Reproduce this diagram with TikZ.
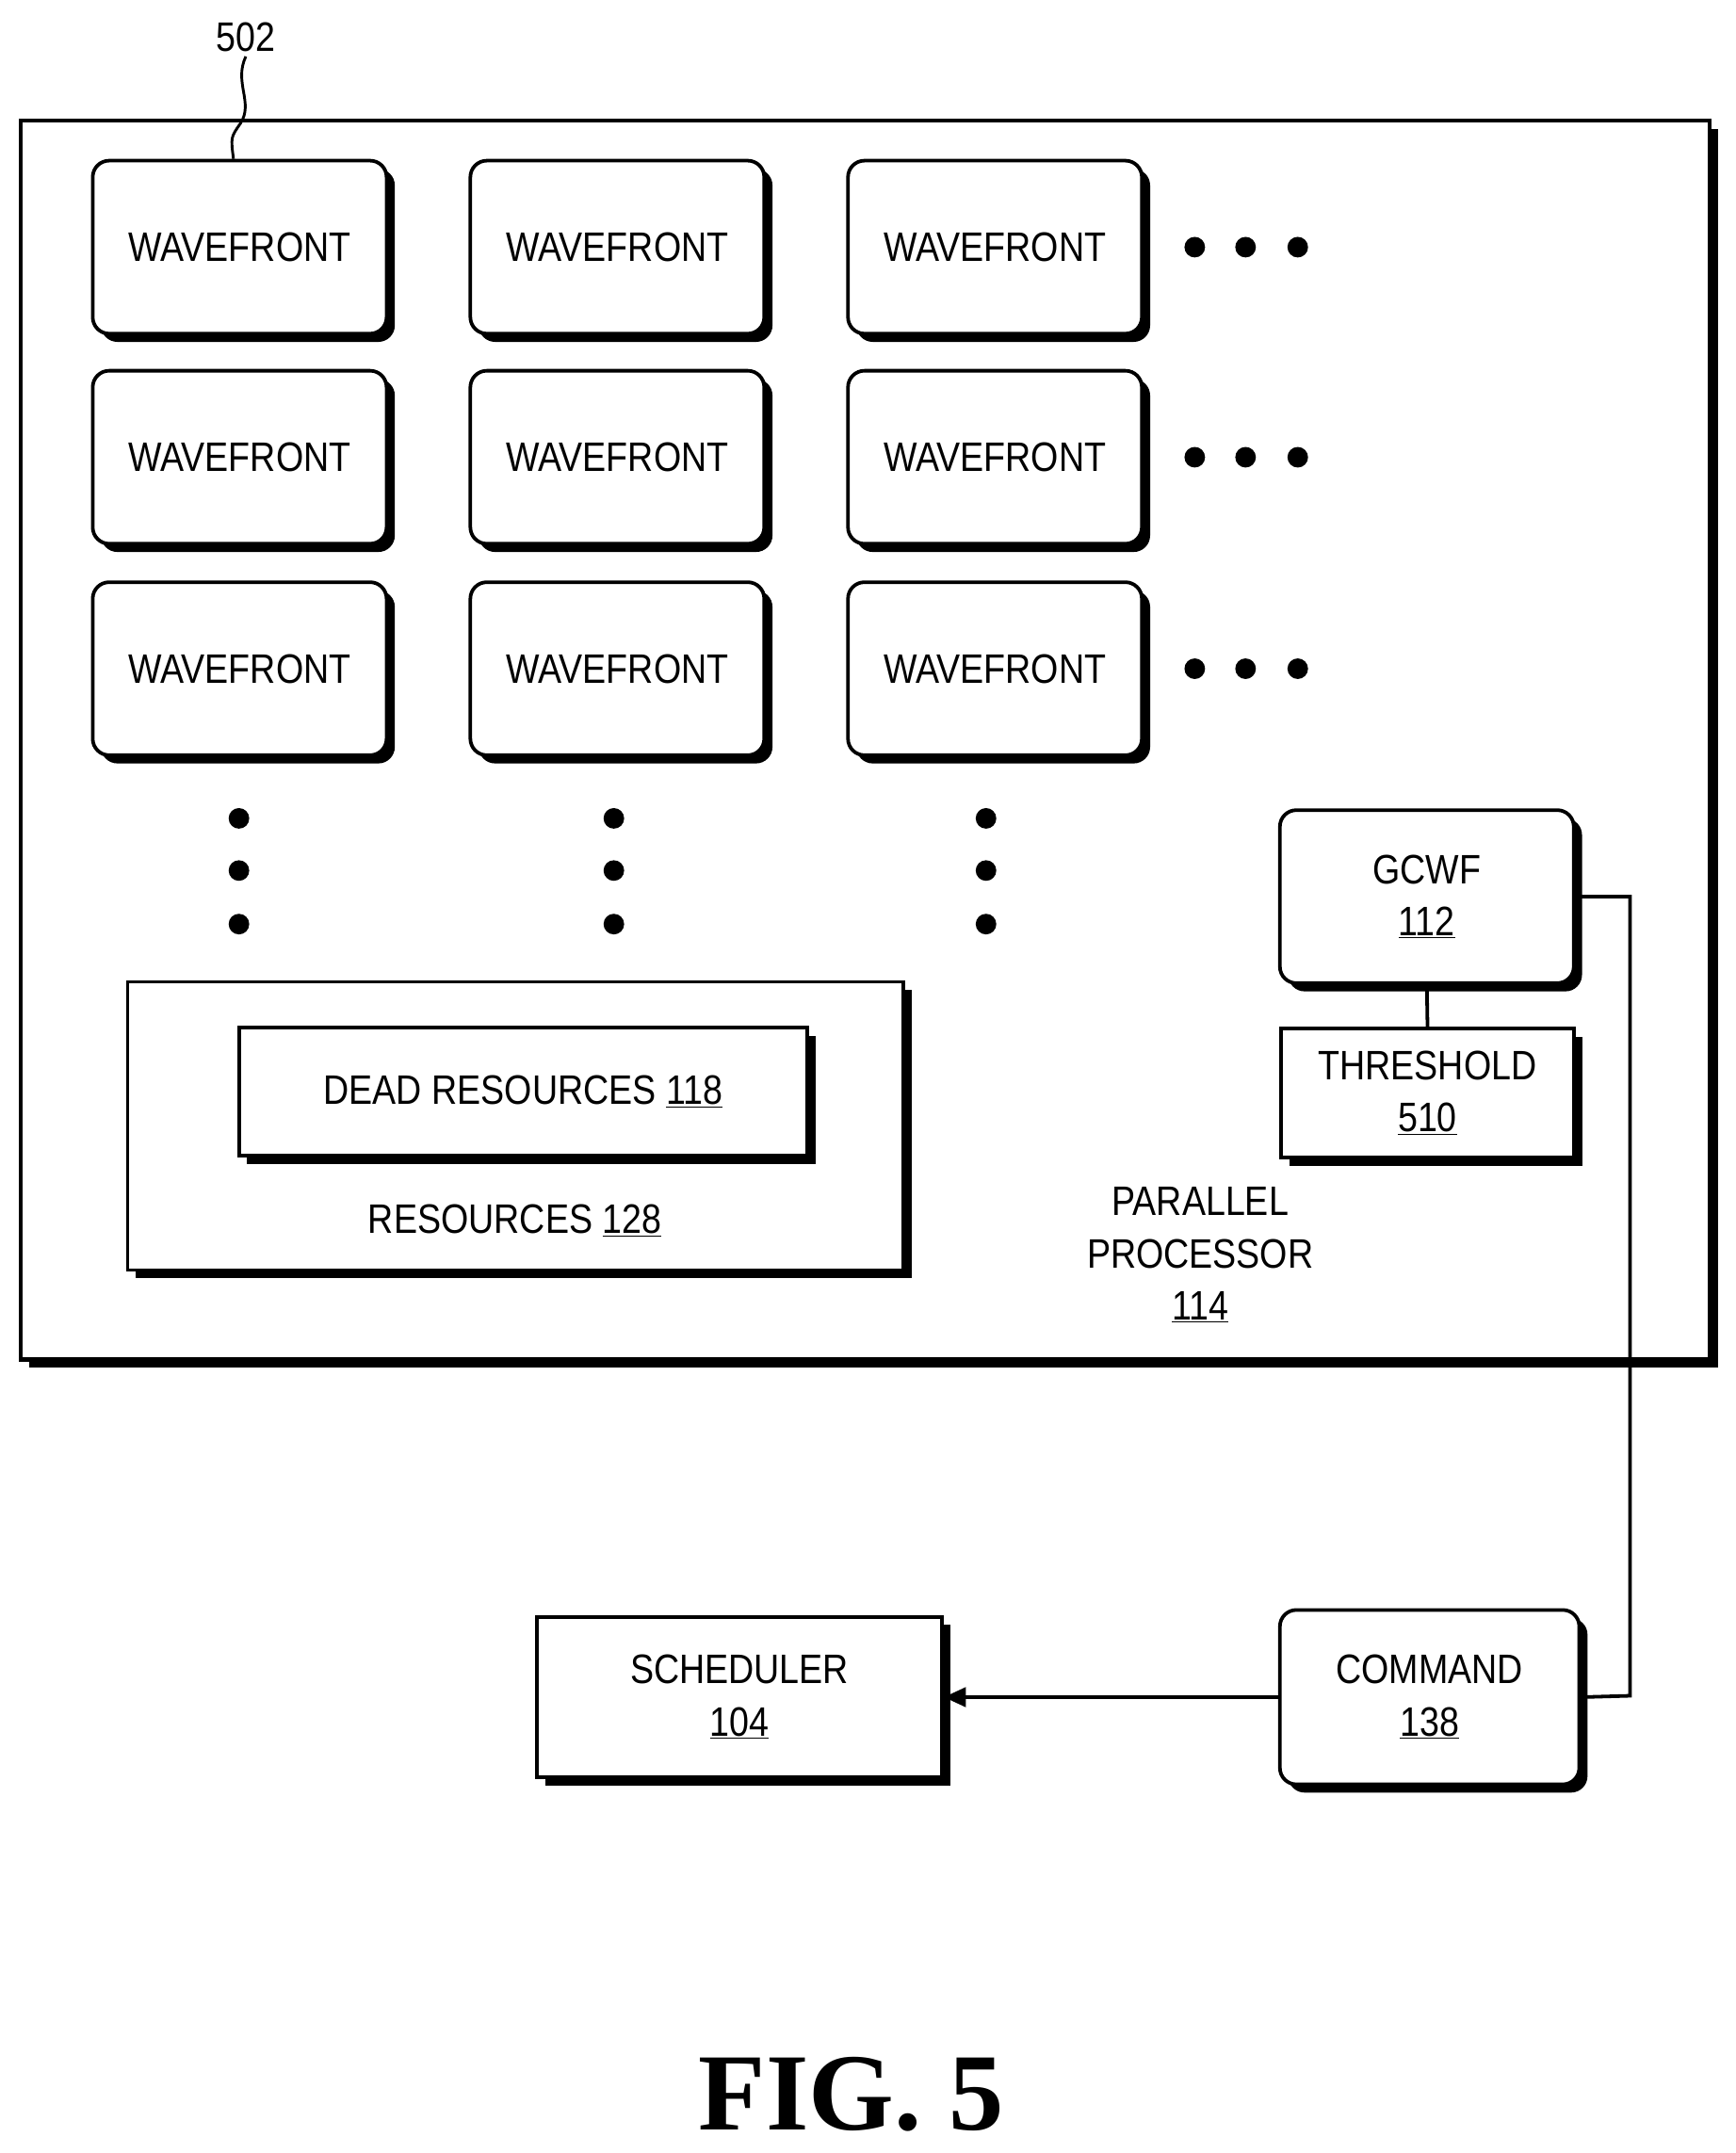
\documentclass[tikz,border=0pt]{standalone}
\usepackage{fontspec}
\setmainfont{Liberation Sans}[FakeStretch=0.86]
\usetikzlibrary{shadows,arrows.meta,decorations.pathmorphing}
\begin{document}
\begin{tikzpicture}[x=1pt,y=-1pt,
 sh/.style={drop shadow={shadow xshift=6pt,shadow yshift=-6pt,fill=black,opacity=1}},
 box/.style={draw,line width=2.6pt,fill=white,sh,font=\fontsize{30}{36}\selectfont,align=center,inner sep=0pt},
 rbox/.style={box,rounded corners=12pt},
 wf/.style={rbox,minimum width=214pt,minimum height=126pt},
 dot/.style={circle,fill=black,inner sep=0pt,minimum size=15pt},
 lab/.style={font=\fontsize{30}{38}\selectfont,align=center}]
\useasboundingbox (0,0) rectangle (1264,1568);
\node[box,minimum width=1230pt,minimum height=902pt,line width=3pt] (pp) at (630,539) {};
\foreach \c/\x in {1/174.5,2/449.5,3/724.5}{
 \foreach \r/\y in {1/180,2/333,3/487}{
  \node[wf] (w\c\r) at (\x,\y) {WAVEFRONT};}}
\foreach \r/\y in {1/180,2/333,3/487}{
 \foreach \x [count=\i] in {870,907,945}{\node[dot] (h\r\i) at (\x,\y) {};}}
\foreach \x [count=\c] in {174,447,718}{
 \foreach \y [count=\i] in {596,634,673}{\node[dot] (v\c\i) at (\x,\y) {};}}
\node[box,minimum width=565pt,minimum height=210pt] (res) at (375.5,820) {};
\node[box,minimum width=414pt,minimum height=93pt] (dead) at (381,795) {DEAD RESOURCES \underline{118}};
\node[lab] (rl) at (375,889) {RESOURCES \underline{128}};
\node[rbox,minimum width=214pt,minimum height=126pt] (gc) at (1039,653) {GCWF\\[2pt]\underline{112}};
\node[box,minimum width=213pt,minimum height=94pt] (th) at (1039.5,796) {THRESHOLD\\[2pt]\underline{510}};
\draw[line width=2.6pt] (gc.south) -- (th.north);
\node[lab] (ppl) at (874,914) {PARALLEL\\PROCESSOR\\\underline{114}};
\node[rbox,minimum width=218pt,minimum height=127pt] (cmd) at (1041,1236) {COMMAND\\[2pt]\underline{138}};
\node[box,minimum width=295pt,minimum height=117pt] (sch) at (538.5,1236) {SCHEDULER\\[2pt]\underline{104}};
\coordinate (k1) at (1187,653);
\coordinate (k2) at (1187,1235);
\draw[line width=2.6pt] (gc.east) -- (k1) -- (k2) -- (cmd.east);
\draw[line width=2.6pt,-{Triangle[length=16pt,width=14pt]}] (cmd.west) -- (sch.east);
\node[lab] (n502) at (179,27) {502};
\draw[line width=2pt] (n502.south) .. controls (170,60) and (185,75) .. (175,90) .. controls (168,100) .. (w11.north -| 170,117);
\node[font=\fontspec{Liberation Serif}\bfseries\fontsize{80}{90}\selectfont] (fig) at (620,1525) {FIG. 5};
\end{tikzpicture}
\end{document}
